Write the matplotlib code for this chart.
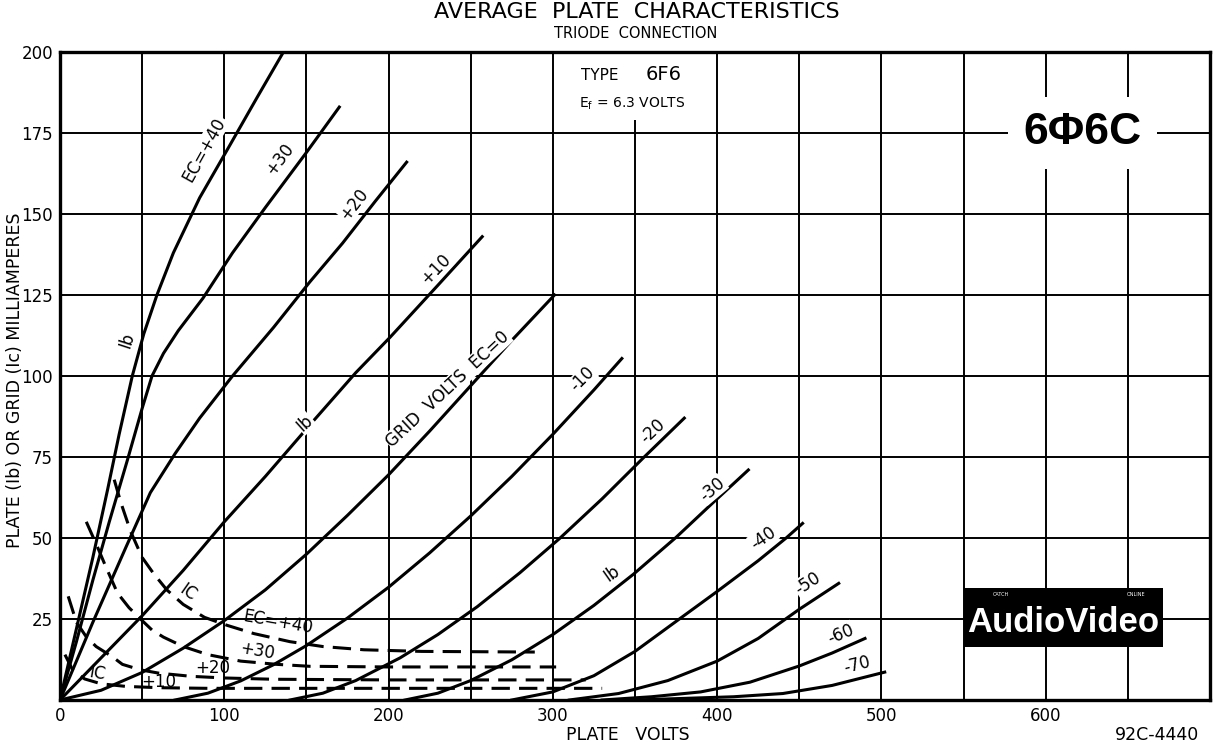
import matplotlib.pyplot as plt
from matplotlib.patches import Rectangle
from matplotlib.ticker import MultipleLocator, FuncFormatter

W, H = 1216, 742

# plate current Ib (mA) against plate volts, one pair of lists per grid voltage
ib_p40_v = [0, 10, 20, 29, 36, 44, 51, 59, 69, 85, 102, 120, 136]
ib_p40_ma = [0, 22, 44, 65, 82, 100, 113, 125, 138, 155, 170, 186, 200]
ib_p30_v = [0, 10, 20, 30, 41, 50, 56, 63, 72, 87, 105, 125, 150, 170]
ib_p30_ma = [0, 18, 37, 55, 74, 90, 100, 107, 114, 124, 138, 152, 169, 183]
ib_p20_v = [0, 20, 40, 55, 70, 85, 105, 130, 152, 172, 192, 211]
ib_p20_ma = [0, 24, 47, 64, 76, 87, 100, 115, 129, 141, 154, 166]
ib_p10_v = [0, 25, 50, 75, 100, 125, 154, 180, 201, 230, 257]
ib_p10_ma = [0, 13, 26, 40, 55, 69, 86, 101, 112, 128, 143]
ib_0_v = [0, 25, 50, 75, 100, 125, 150, 175, 200, 225, 250, 275, 301]
ib_0_ma = [0, 3, 8.5, 16, 24.5, 34, 45, 57, 69.5, 83, 97, 111, 125]
ib_m10_v = [70, 90, 110, 130, 150, 175, 200, 225, 250, 275, 300, 325, 342]
ib_m10_ma = [0, 2.1, 5.9, 10.9, 16.8, 25.3, 34.8, 45.4, 56.8, 69, 82, 95.7, 105.4]
ib_m20_v = [140, 160, 180, 207, 230, 254, 280, 304, 330, 355, 380]
ib_m20_ma = [0, 2.1, 6.0, 13.0, 20.2, 28.8, 39.3, 49.8, 62.1, 74.7, 87]
ib_m30_v = [210, 230, 250, 275, 300, 325, 349, 375, 400, 419]
ib_m30_ma = [0, 2.1, 6.0, 12.4, 20.2, 29.2, 38.8, 50.2, 62.1, 71]
ib_m40_v = [275, 300, 325, 350, 377, 400, 425, 442, 452]
ib_m40_ma = [0, 2.5, 7.5, 15, 25, 33.5, 43, 50, 54.5]
ib_m50_v = [310, 340, 370, 400, 425, 450, 474]
ib_m50_ma = [0, 2, 6, 12, 19, 28, 36]
ib_m60_v = [330, 360, 390, 420, 450, 470, 490]
ib_m60_ma = [0, 1, 2.5, 5.5, 10.5, 14.5, 19]
ib_m70_v = [350, 380, 410, 440, 470, 502]
ib_m70_ma = [0, 0.5, 1, 2, 4.5, 8.6]

# grid current Ic (mA), dashed
ic_p40_v = [33, 37, 43, 50, 57, 65, 75, 88, 102, 118, 140, 160, 185, 220, 289]
ic_p40_ma = [68, 61, 52, 44, 39, 34, 29.5, 25.5, 23, 20.5, 18, 16.5, 15.5, 15, 14.8]
ic_p30_v = [16, 23, 28, 35, 42, 49, 56, 63, 75, 90, 110, 132, 152, 200, 302]
ic_p30_ma = [55, 47, 41, 33, 28.5, 25, 21.6, 19.4, 16.5, 14, 12, 11, 10.4, 10.2, 10.2]
ic_p20_v = [5, 10, 16, 22, 32, 38, 49, 60, 80, 100, 130, 200, 320]
ic_p20_ma = [32, 24, 19.5, 16.5, 13.3, 11, 9.3, 8.3, 7.3, 6.8, 6.4, 6.2, 6.2]
ic_p10_v = [3, 8, 15, 25, 40, 60, 90, 130, 200, 330]
ic_p10_ma = [14, 9, 6.5, 5, 4.2, 3.8, 3.6, 3.6, 3.6, 3.6]

# curve labels
ib_label_text = ['EC=+40', '+30', '+20', '+10', 'GRID  VOLTS  EC=0', '-10', '-20', '-30', '-40', '-50', '-60', '-70']
ib_label_v = [88, 134, 179, 229, 236, 318, 361, 397, 428, 455, 475, 485]
ib_label_ma = [170, 167, 153, 133, 96, 99, 83, 65, 50, 36, 20.4, 10.8]
ib_label_rot = [61, 53, 52, 46, 43, 45, 43, 40, 35, 33, 22, 14]

ib_tag_v = [41, 149, 336]
ib_tag_ma = [111, 85.5, 39]
ib_tag_rot = [72, 42, 35]

ic_label_text = ['IC', 'EC=+40', '+30', '+20', '+10', 'IC']
ic_label_v = [78, 133, 120, 93, 60, 23]
ic_label_ma = [33, 24, 15, 10, 5.6, 8.3]
ic_label_rot = [-35, -10, -10, 0, 0, -10]


def fx(x):
  return x / W

def fy(y):
  return 1 - y / H


fig = plt.figure(figsize=(W / 100, H / 100), dpi=100)
ax = fig.add_axes([fx(60), fy(700), 1150 / W, 648 / H])
ax.set_xlim(0, 700)
ax.set_ylim(0, 200)
ax.xaxis.set_major_locator(MultipleLocator(50))
ax.yaxis.set_major_locator(MultipleLocator(25))
ax.xaxis.set_major_formatter(FuncFormatter(lambda x, p: f'{x:.0f}' if x % 100 == 0 and x < 700 else ''))
ax.yaxis.set_major_formatter(FuncFormatter(lambda y, p: f'{y:.0f}' if y > 0 else ''))
ax.tick_params(length=0, labelsize=12, pad=5)
ax.set_axisbelow(True)
ax.grid(True, color='black', lw=1.4)
for s in ax.spines.values():
  s.set_linewidth(2.4)

ib_sets = [(ib_p40_v, ib_p40_ma), (ib_p30_v, ib_p30_ma), (ib_p20_v, ib_p20_ma),
           (ib_p10_v, ib_p10_ma), (ib_0_v, ib_0_ma), (ib_m10_v, ib_m10_ma),
           (ib_m20_v, ib_m20_ma), (ib_m30_v, ib_m30_ma), (ib_m40_v, ib_m40_ma),
           (ib_m50_v, ib_m50_ma), (ib_m60_v, ib_m60_ma), (ib_m70_v, ib_m70_ma)]
for v, ma in ib_sets:
  ax.plot(v, ma, color='black', lw=2.2, solid_joinstyle='round', zorder=2)

ic_sets = [(ic_p40_v, ic_p40_ma), (ic_p30_v, ic_p30_ma),
           (ic_p20_v, ic_p20_ma), (ic_p10_v, ic_p10_ma)]
for v, ma in ic_sets:
  ax.plot(v, ma, color='black', lw=2.2, dashes=(6, 3), zorder=2)

white = dict(facecolor='white', edgecolor='none', pad=0.5)
for t, v, ma, r in zip(ib_label_text, ib_label_v, ib_label_ma, ib_label_rot):
  ax.text(v, ma, t, rotation=r, fontsize=12, ha='center', va='center',
          rotation_mode='anchor', bbox=white, zorder=3)
for v, ma, r in zip(ib_tag_v, ib_tag_ma, ib_tag_rot):
  ax.text(v, ma, 'Ib', rotation=r, fontsize=12, ha='center', va='center',
          rotation_mode='anchor', bbox=white, zorder=3)
for t, v, ma, r in zip(ic_label_text, ic_label_v, ic_label_ma, ic_label_rot):
  ax.text(v, ma, t, rotation=r, fontsize=12, ha='center', va='center',
          rotation_mode='anchor', zorder=3)

# blank panel behind the tube type note
ax.add_patch(Rectangle((302, 179), 93, 20.5, facecolor='white', edgecolor='none', zorder=1))
fig.text(fx(600), fy(75), 'TYPE', fontsize=11, ha='center', va='center')
fig.text(fx(664), fy(75), '6F6', fontsize=14, ha='center', va='center')
fig.text(fx(632), fy(104), r'E$_\mathregular{f}$ = 6.3 VOLTS', fontsize=10, ha='center', va='center')

ax.text(622.5, 175, '6Φ6C', fontsize=32, weight='bold', family='Liberation Sans',
        ha='center', va='center', zorder=3,
        bbox=dict(boxstyle='square,pad=0.35', facecolor='white', edgecolor='none'))

# logo
ax.add_patch(Rectangle((550, 16.4), 121.3, 18.2, facecolor='black', edgecolor='none', zorder=4))
ax.text(610.5, 23.8, 'AudioVideo', color='white', fontsize=25, weight='bold',
        family='Liberation Sans', ha='center', va='center', zorder=5)
fig.text(fx(1001), fy(594), 'CATCH', color='white', fontsize=3.5, ha='center', va='center', zorder=6)
fig.text(fx(1136), fy(594), 'ONLINE', color='white', fontsize=3.5, ha='center', va='center', zorder=6)

fig.text(fx(637), fy(12), 'AVERAGE  PLATE  CHARACTERISTICS', fontsize=16, ha='center', va='center')
fig.text(fx(636), fy(33), 'TRIODE  CONNECTION', fontsize=10.5, ha='center', va='center')
fig.text(fx(15), fy(380), 'PLATE (Ib) OR GRID (Ic) MILLIAMPERES', fontsize=12.5,
         rotation=90, ha='center', va='center')
fig.text(fx(628), fy(735), 'PLATE   VOLTS', fontsize=12.5, ha='center', va='center')
fig.text(fx(1157), fy(735), '92C-4440', fontsize=12.5, ha='center', va='center')

fig.savefig('out.png', dpi=100)
